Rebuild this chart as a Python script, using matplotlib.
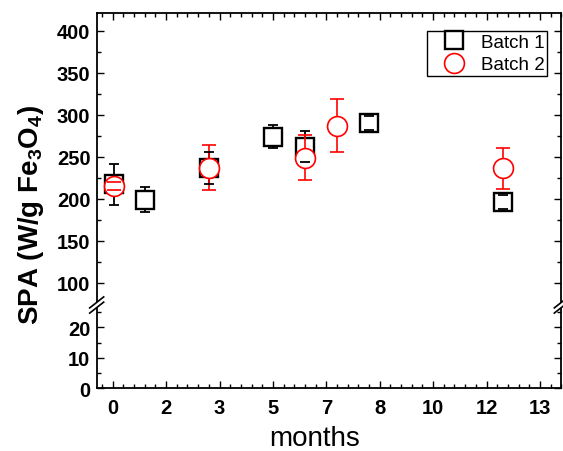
import matplotlib
matplotlib.use('Agg')
import matplotlib.pyplot as plt
from matplotlib.ticker import MultipleLocator, FixedLocator
from matplotlib.lines import Line2D
from matplotlib.patches import Polygon

plt.rcParams['font.family'] = ['Liberation Sans', 'DejaVu Sans']
plt.rcParams['mathtext.fontset'] = 'custom'
plt.rcParams['mathtext.rm'] = 'Liberation Sans:bold'
plt.rcParams['mathtext.bf'] = 'Liberation Sans:bold'
plt.rcParams['mathtext.it'] = 'Liberation Sans:italic'

# ---- data (x in days; tick labels in months) ----
days_b1 = [1, 30, 90, 150, 180, 240, 365]
spa_b1 = [217, 199, 236, 274, 262, 290, 196]
err_b1 = [24, 15, 19, 14, 18, 8, 8.5]

days_b2 = [1, 90, 180, 210, 365]
spa_b2 = [215, 237, 249, 287, 236]
err_b2 = [5, 27, 27, 31.5, 24]

xtick_days = [0, 50, 100, 150, 200, 250, 300, 350, 400]
xtick_labels = ['0', '2', '3', '5', '7', '8', '10', '12', '13']
upper_ticks = [100, 150, 200, 250, 300, 350, 400]
lower_ticks = [0, 10, 20]

# ---- layout (pixels) ----
W, H = 563, 452
L, R, T, B, BRK = 96.7, 561.3, 14.0, 389.3, 306.0

fig = plt.figure(figsize=(W / 100, H / 100), dpi=100, facecolor='white')
ax_top = fig.add_axes([L / W, 1 - BRK / H, (R - L) / W, (BRK - T) / H])
ax_bot = fig.add_axes([L / W, 1 - B / H, (R - L) / W, (B - BRK) / H])

for ax in (ax_top, ax_bot):
    ax.set_xlim(-15, 420)
    for s in ax.spines.values():
        s.set_linewidth(1.3)
    ax.tick_params(which='both', direction='in', width=1.0,
                   left=True, right=True, labelsize=14)
    ax.tick_params(which='major', length=5)
    ax.tick_params(which='minor', length=3)
    ax.tick_params(axis='y', pad=4.5)
    ax.xaxis.set_major_locator(FixedLocator(xtick_days))
    ax.xaxis.set_minor_locator(MultipleLocator(10))

ax_top.set_ylim(73.5, 421)
ax_top.yaxis.set_major_locator(FixedLocator(upper_ticks))
ax_top.yaxis.set_minor_locator(FixedLocator([125, 175, 225, 275, 325, 375]))
ax_top.spines['bottom'].set_visible(False)
ax_top.tick_params(axis='x', which='both', bottom=False, top=True, labelbottom=False)

ax_bot.set_ylim(0, 27.3)
ax_bot.yaxis.set_major_locator(FixedLocator(lower_ticks))
ax_bot.yaxis.set_minor_locator(FixedLocator([5, 15, 25]))
ax_bot.spines['top'].set_visible(False)
ax_bot.tick_params(axis='x', which='both', bottom=True, top=False, pad=7)
ax_bot.set_xticklabels(xtick_labels)

for ax in (ax_top, ax_bot):
    for lab in ax.get_yticklabels() + ax.get_xticklabels():
        lab.set_fontweight('bold')
        lab.set_fontsize(14.5)

# ---- data marks ----
eb1 = ax_top.errorbar(days_b1, spa_b1, yerr=err_b1, fmt='none', ecolor='black',
                      elinewidth=1.3, capsize=3.6, capthick=1.3, zorder=1)
for c in eb1[1]:
    c.set_zorder(5)
ax_top.plot(days_b1, spa_b1, ls='none', marker='s', ms=12.3, mfc='white',
            mec='black', mew=1.7, zorder=2)

eb2 = ax_top.errorbar(days_b2, spa_b2, yerr=err_b2, fmt='none', ecolor='red',
                      elinewidth=1.2, capsize=4.7, capthick=1.2, zorder=3)
for c in eb2[1]:
    c.set_zorder(5)
ax_top.plot(days_b2, spa_b2, ls='none', marker='o', ms=14.3, mfc='white',
            mec='red', mew=1.2, zorder=4)

# ---- legend ----
h1 = Line2D([], [], ls='none', marker='s', ms=12.3, mfc='white', mec='black', mew=1.7)
h2 = Line2D([], [], ls='none', marker='o', ms=14.3, mfc='white', mec='red', mew=1.2)
leg = ax_top.legend([h1, h2], ['Batch 1', 'Batch 2'], loc='upper left',
                    bbox_to_anchor=(427 / W, 1 - 77 / H, 120 / W, 45 / H),
                    bbox_transform=fig.transFigure, mode='expand',
                    borderaxespad=0, borderpad=0.14, labelspacing=0.3,
                    handlelength=2.6, handletextpad=0.15, numpoints=1,
                    fancybox=False, framealpha=1, edgecolor='black',
                    prop={'size': 13.5})
leg.get_frame().set_linewidth(1.0)

# ---- axis labels ----
fig.text(314.6 / W, 1 - 446.5 / H, 'months', ha='center', va='baseline', fontsize=20)
fig.text(37.7 / W, 1 - 215 / H, r'SPA $\left(\mathbf{W/g\ Fe_3O_4}\right)$',
         rotation=90, rotation_mode='anchor', ha='center', va='baseline',
         fontsize=20, fontweight='bold')

# ---- axis break marks ----
def px(x, y):
    return (x / W, 1 - y / H)

for xs in (L, R):
    y0 = BRK
    d = 2.6
    poly = Polygon([px(xs - 7, y0 - d + 5.5), px(xs + 7, y0 - d - 5.5),
                    px(xs + 7, y0 + d - 5.5), px(xs - 7, y0 + d + 5.5)],
                   closed=True, transform=fig.transFigure, facecolor='white',
                   edgecolor='none', zorder=9)
    fig.add_artist(poly)
    for off in (-d, d):
        (x1, y1), (x2, y2) = px(xs - 7, y0 + off + 5.5), px(xs + 7, y0 + off - 5.5)
        fig.add_artist(Line2D([x1, x2], [y1, y2], transform=fig.transFigure,
                              color='black', lw=1.2, zorder=10))

fig.savefig('out.png', dpi=100, facecolor='white')
